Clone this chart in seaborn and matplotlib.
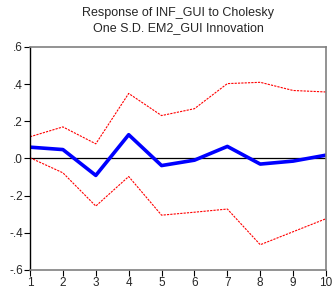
import numpy as np
import pandas as pd
import matplotlib
matplotlib.use("Agg")
import matplotlib.pyplot as plt
import seaborn as sns

# impulse response values
periods = [1, 2, 3, 4, 5, 6, 7, 8, 9, 10]
response = [0.061, 0.048, -0.091, 0.128, -0.038, -0.009, 0.065, -0.030, -0.014, 0.018]
upper = [0.117, 0.170, 0.079, 0.350, 0.231, 0.268, 0.403, 0.410, 0.366, 0.358]
lower = [0.004, -0.077, -0.256, -0.097, -0.305, -0.289, -0.272, -0.464, -0.394, -0.324]
yticks = [-0.6, -0.4, -0.2, 0.0, 0.2, 0.4, 0.6]
ylabels = ["-.6", "-.4", "-.2", ".0", ".2", ".4", ".6"]

df = pd.DataFrame({"period": periods, "resp": response, "up": upper, "lo": lower})

sns.set_style("white")
plt.rcParams['font.family'] = ['Liberation Sans', 'DejaVu Sans']

fig = plt.figure(figsize=(3.32, 2.93), dpi=100)
ax = fig.add_axes([0.0904, 0.0785, 0.8916, 0.7611])

ax.axhline(0, color="black", lw=0.9, zorder=1)
sns.lineplot(data=df, x="period", y="up", ax=ax, color="red", lw=0.8, linestyle=(0, (2, 1)))
sns.lineplot(data=df, x="period", y="lo", ax=ax, color="red", lw=0.8, linestyle=(0, (2, 1)))
sns.lineplot(data=df, x="period", y="resp", ax=ax, color="#0000ff", lw=2.6)

ax.set_xlim(1, 10)
ax.set_ylim(-0.6, 0.6)
ax.set_xticks(periods)
ax.set_xticklabels([str(p) for p in periods], fontsize=8.5)
ax.set_yticks(yticks)
ax.set_yticklabels(ylabels, fontsize=8.5)
ax.set_xlabel("")
ax.set_ylabel("")
ax.tick_params(axis="both", direction="out", length=4, width=0.8, color="black", pad=1, left=True, bottom=True)

for s in ["top", "right", "bottom"]:
    ax.spines[s].set_color("#808080")
    ax.spines[s].set_linewidth(1.2)
ax.spines["left"].set_color("black")
ax.spines["left"].set_linewidth(1.0)

fig.text(0.536, 0.955, "Response of INF_GUI to Cholesky", ha="center", va="center", fontsize=9)
fig.text(0.536, 0.905, "One S.D. EM2_GUI Innovation", ha="center", va="center", fontsize=9)

fig.savefig("out.png", dpi=100)
